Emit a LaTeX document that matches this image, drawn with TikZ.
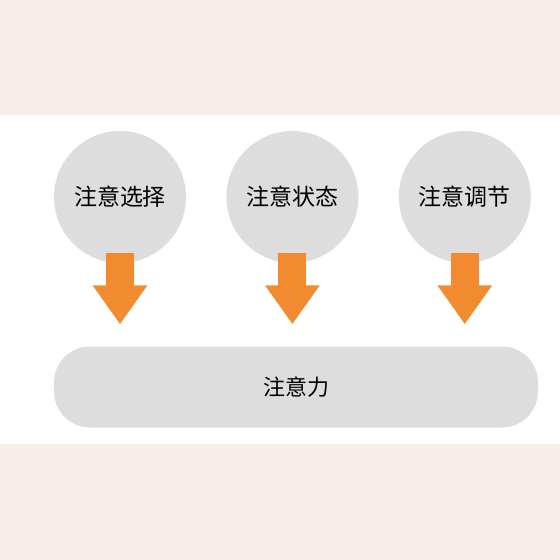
\documentclass[tikz,border=0pt]{standalone}
\usepackage{fontspec}
\setmainfont{Noto Sans CJK SC}
\usepackage{tikz}
\usetikzlibrary{positioning,arrows.meta}
\definecolor{bandpink}{RGB}{247,238,233}
\definecolor{softgray}{RGB}{221,221,221}
\definecolor{arroworange}{RGB}{242,138,48}

\begin{document}
\begin{tikzpicture}[x=1pt, y=-1pt, node distance=40pt,
    topic/.style={circle, fill=softgray, minimum size=132pt, inner sep=0pt, font=\fontsize{23}{28}\selectfont},
    base/.style={rectangle, fill=softgray, rounded corners=36pt, minimum width=484pt, minimum height=81pt, font=\fontsize{22}{26}\selectfont},
    bigarrow/.style={draw=arroworange, line width=28pt, -{Triangle[width=52pt, length=39pt]}}]
        \useasboundingbox (0,0) rectangle (560,560);
        % pale bands above and below
        \fill[bandpink] (0,0) rectangle (560,115);
        \fill[bandpink] (0,444) rectangle (560,560);

        \node[topic] (select) at (120,197) {注意选择};
        \node[topic] (state) [right=of select] {注意状态};
        \node[topic] (regulate) [right=of state] {注意调节};
        \node[base] (attention) at (296,387) {注意力};

        \draw[bigarrow] ([yshift=10pt]select.south) -- ([yshift=22pt]select.south |- attention.north);
        \draw[bigarrow] ([yshift=10pt]state.south) -- ([yshift=22pt]state.south |- attention.north);
        \draw[bigarrow] ([yshift=10pt]regulate.south) -- ([yshift=22pt]regulate.south |- attention.north);
    \end{tikzpicture}
\end{document}
